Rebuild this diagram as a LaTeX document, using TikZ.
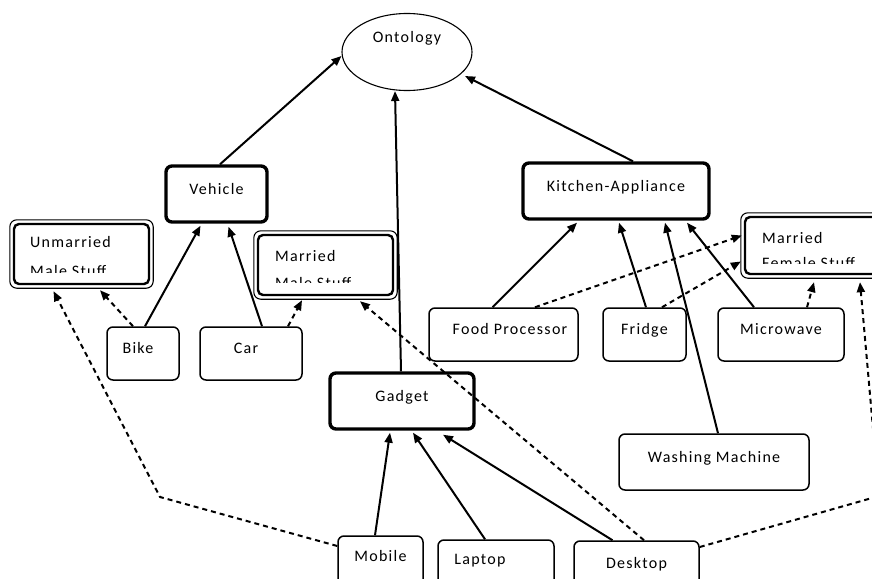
\documentclass[tikz,border=0pt]{standalone}
\usepackage{fontspec}
\setmainfont{Carlito}[LetterSpace=8]
\usetikzlibrary{arrows.meta,shapes.geometric}
\begin{document}
\begin{tikzpicture}[x=1pt,y=-1pt,
  font=\fontsize{16}{19}\selectfont,
  box/.style={draw, rounded corners=6pt, line width=1.5pt, text height=8pt, text depth=8pt, inner sep=0pt},
  thickbox/.style={box, line width=3.4pt},
  dbox/.style={draw, rounded corners=5pt, line width=2.4pt, inner sep=0pt},
  outerline/.style={line width=1.1pt, rounded corners=7pt},
  boxtext/.style={anchor=base west, inner sep=0pt},
  solidarrow/.style={line width=2pt, -{Triangle[length=10pt,width=8pt]}},
  dasharrow/.style={line width=2pt, dash pattern=on 5pt off 4pt, -{Triangle[length=10pt,width=8pt]}},
]
\useasboundingbox (0,0) rectangle (872,578);
\clip (0,0) rectangle (872,578);

% nodes
\node[draw, ellipse, line width=1.1pt, minimum width=130pt, minimum height=77pt,
      text height=8pt, text depth=28pt, inner sep=0pt] (onto) at (407,52) {Ontology};
\node[thickbox, minimum width=101pt, minimum height=56pt] (veh) at (216.5,194) {Vehicle};
\node[thickbox, minimum width=186pt, minimum height=56pt] (kit) at (616,191) {Kitchen-Appliance};
\node[thickbox, minimum width=144pt, minimum height=56pt] (gad) at (402,401) {Gadget};

\node[box, minimum width=72pt, minimum height=53pt] (bike) at (143,353.5) {Bike\hspace*{10pt}};
\node[box, minimum width=102pt, minimum height=53pt] (car) at (251,353.5) {Car\hspace*{10pt}};
\node[box, minimum width=149pt, minimum height=53pt] (fp) at (503.5,334.5) {\hspace*{13pt}Food Processor};
\node[box, minimum width=83pt, minimum height=53pt] (fr) at (644.5,334.5) {Fridge};
\node[box, minimum width=126pt, minimum height=53pt] (mw) at (781,334.5) {Microwave};
\node[box, minimum width=190pt, minimum height=56pt] (wm) at (714,462) {Washing Machine};
\node[box, minimum width=85pt, minimum height=64pt, text depth=22pt] (mob) at (380.5,568) {Mobile};
\node[box, minimum width=116pt, minimum height=60pt, text depth=20pt] (lap) at (496,570) {Laptop\hspace*{32pt}};
\node[box, minimum width=125pt, minimum height=59pt, text depth=13pt] (desk) at (636.5,570.5) {Desktop};

% double-bordered boxes
\node[dbox, minimum width=135pt, minimum height=60pt] (um) at (81.5,254) {};
\draw[outerline] ([shift={(-3,-3)}]um.north west) rectangle ([shift={(3,3)}]um.south east);
\begin{scope}
  \clip (14,224) rectangle (149,272);
  \node[boxtext] (um1) at (30,247) {Unmarried};
  \node[boxtext] (um2) at (30,276) {Male Stuff};
\end{scope}

\node[dbox, minimum width=135pt, minimum height=60pt] (mm) at (325.5,265) {};
\draw[outerline] ([shift={(-3,-3)}]mm.north west) rectangle ([shift={(3,3)}]mm.south east);
\begin{scope}
  \clip (258,235) rectangle (393,282);
  \node[boxtext] (mm1) at (275,261) {Married};
  \node[boxtext] (mm2) at (275,288) {Male Stuff};
\end{scope}

\node[dbox, minimum width=152pt, minimum height=57pt] (mf) at (821,245.5) {};
\draw[outerline] ([shift={(-3,-3)}]mf.north west) rectangle ([shift={(3,3)}]mf.south east);
\begin{scope}
  \clip (745,217) rectangle (897,263);
  \node[boxtext] (mf1) at (762,243) {Married};
  \node[boxtext] (mf2) at (762,268) {Female Stuff};
\end{scope}

% solid connectors
\draw[solidarrow] ([xshift=3.5pt]veh.north) -- ([yshift=-4pt]onto.west);
\draw[solidarrow] ([xshift=-1pt]gad.north) -- ([xshift=-12pt]onto.south);
\draw[solidarrow] ([xshift=17pt]kit.north) -- ([xshift=58pt,yshift=-24pt]onto.center);
\draw[solidarrow] ([xshift=2pt]bike.north) -- ([xshift=-16pt,yshift=-2pt]veh.south);
\draw[solidarrow] ([xshift=11pt]car.north) -- ([xshift=12pt,yshift=-3pt]veh.south);
\draw[solidarrow] ([xshift=-11pt]fp.north) -- ([xshift=-39pt,yshift=-2pt]kit.south);
\draw[solidarrow] ([xshift=1.5pt]fr.north) -- ([xshift=3pt,yshift=-2pt]kit.south);
\draw[solidarrow] ([xshift=4pt]wm.north) -- ([xshift=49pt,yshift=-2pt]kit.south);
\draw[solidarrow] ([xshift=-27pt]mw.north) -- ([xshift=71pt,yshift=-2pt]kit.south);
\draw[solidarrow] ([xshift=-5.5pt]mob.north) -- ([xshift=-12pt,yshift=-2pt]gad.south);
\draw[solidarrow] ([xshift=-11pt]lap.north) -- ([xshift=11pt,yshift=-2pt]gad.south);
\draw[solidarrow] ([xshift=-24pt]desk.north) -- ([xshift=41pt,yshift=-4pt]gad.south);

% dashed connectors
\coordinate (c1) at (160,497);
\coordinate (c2) at (879,496);
\draw[dasharrow] ([xshift=-10pt]bike.north) -- ([xshift=18.5pt,yshift=-5pt]um.south);
\draw[dasharrow] ([yshift=22pt]mob.west) -- (c1) -- ([xshift=-28pt,yshift=-6pt]um.south);
\draw[dasharrow] ([xshift=37pt]car.north) -- ([xshift=-23.5pt,yshift=-4pt]mm.south);
\draw[dasharrow] ([xshift=7.5pt]desk.north) -- ([xshift=34.5pt,yshift=-5pt]mm.south);
\draw[dasharrow] ([xshift=31.5pt]fp.north) -- ([xshift=-2pt,yshift=10pt]mf.west);
\draw[dasharrow] ([xshift=17.5pt]fr.north) -- ([xshift=-3pt,yshift=-16pt]mf.west);
\draw[dasharrow] ([xshift=26pt]mw.north) -- ([xshift=-7pt,yshift=-7pt]mf.south);
\draw[dasharrow] ([yshift=23.5pt]desk.east) -- (c2) -- ([xshift=39pt,yshift=-7pt]mf.south);
\end{tikzpicture}
\end{document}
